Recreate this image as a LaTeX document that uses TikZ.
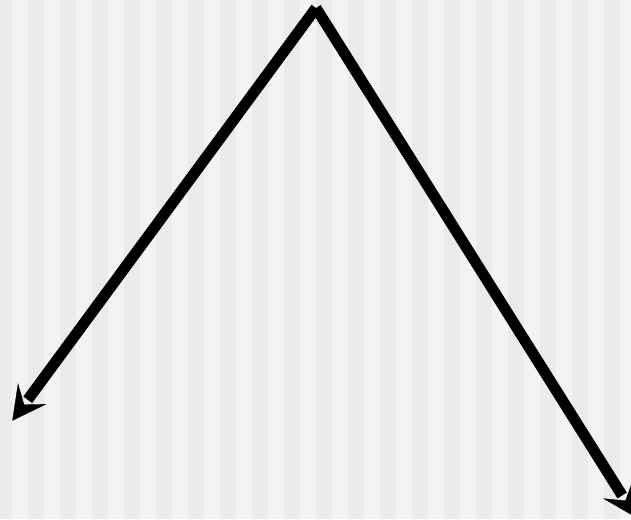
\documentclass[tikz,border=0pt]{standalone}
\usetikzlibrary{arrows.meta,calc}
\definecolor{stripeA}{HTML}{EBEBEB}
\definecolor{stripeB}{HTML}{F3F3F3}
\tikzset{
  edgeline/.style={line width=8.25pt, line cap=butt},
  headtip/.style={line width=0.3pt, -{Stealth[length=25.2pt,width=26.5pt,inset=10.2pt]}},
}
\begin{document}
\begin{tikzpicture}[x=0.75pt,y=-0.75pt]
\useasboundingbox (0,0) rectangle (631,519);
\clip (0,0) rectangle (631,519);
\fill[stripeA] (0,0) rectangle (631,519);
\foreach \i in {0,...,19} {
  \fill[stripeB] ({12+32*\i},0) rectangle ({28+32*\i},519);
}
\coordinate (apex) at (316,8);
\coordinate (lefttip) at (12.3,420.7);
\coordinate (righttip) at (636,517.5);
\coordinate (leftend) at ($(lefttip)!19.5pt!(apex)$);
\coordinate (rightend) at ($(righttip)!19.5pt!(apex)$);
\coordinate (lefthb) at ($(lefttip)!11pt!(apex)$);
\coordinate (righthb) at ($(righttip)!11pt!(apex)$);
\draw[edgeline] (apex) -- (leftend);
\draw[edgeline] (apex) -- (rightend);
\draw[headtip] (lefthb) -- (lefttip);
\draw[headtip] (righthb) -- (righttip);
\end{tikzpicture}
\end{document}
